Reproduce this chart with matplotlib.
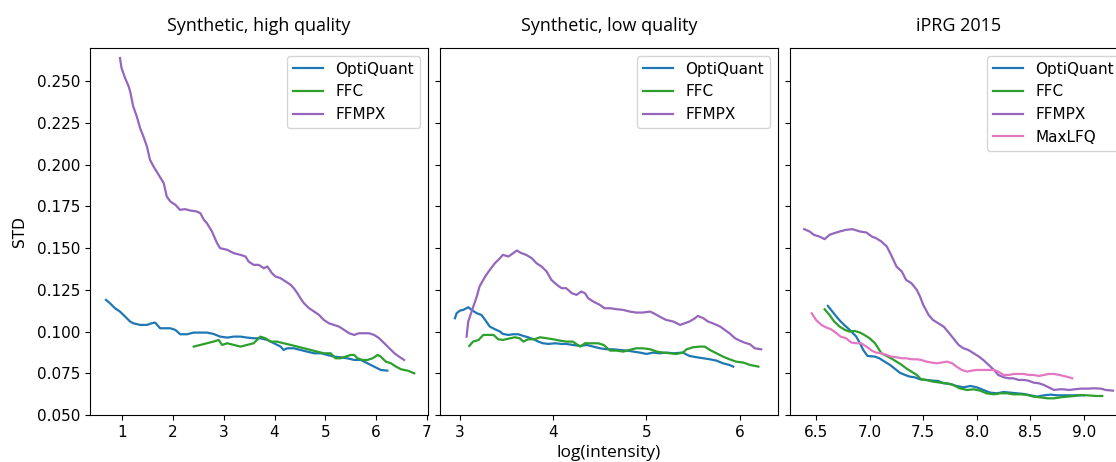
import matplotlib
matplotlib.use("Agg")
import matplotlib.pyplot as plt

plt.rcParams["font.family"] = ["DejaVu Sans"]

# Synthetic, high quality
hq_opti_x = [0.684, 0.763, 0.862, 0.96, 1.06, 1.16, 1.22, 1.355, 1.49, 1.585, 1.65, 1.75, 1.85, 1.95, 2.05,
             2.145, 2.28, 2.41, 2.54, 2.67, 2.80, 2.93, 3.07, 3.20, 3.33, 3.46, 3.59, 3.72, 3.86, 3.99, 4.12,
             4.18, 4.25, 4.38, 4.51, 4.64, 4.78, 4.91, 5.04, 5.17, 5.30, 5.43, 5.57, 5.70, 5.83, 5.96, 6.09, 6.22]
hq_opti_y = [0.119, 0.117, 0.114, 0.112, 0.109, 0.106, 0.105, 0.104, 0.104, 0.105, 0.1054, 0.102, 0.102, 0.102,
             0.101, 0.0984, 0.0984, 0.0994, 0.0994, 0.0994, 0.0986, 0.097, 0.0964, 0.097, 0.097, 0.0964, 0.096,
             0.096, 0.095, 0.093, 0.091, 0.089, 0.090, 0.090, 0.089, 0.088, 0.087, 0.087, 0.086, 0.085, 0.0846,
             0.084, 0.083, 0.083, 0.081, 0.079, 0.077, 0.0766]
hq_ffc_x = [2.41, 2.54, 2.67, 2.80, 2.90, 2.97, 3.07, 3.20, 3.33, 3.46, 3.59, 3.72, 3.82, 3.92, 4.05, 4.18, 4.32,
            4.45, 4.58, 4.71, 4.84, 4.97, 5.105, 5.20, 5.30, 5.40, 5.50, 5.57, 5.63, 5.73, 5.83, 5.93, 6.03, 6.09,
            6.19, 6.29, 6.39, 6.49, 6.62, 6.75]
hq_ffc_y = [0.091, 0.092, 0.093, 0.094, 0.095, 0.092, 0.093, 0.092, 0.091, 0.092, 0.093, 0.097, 0.096, 0.094,
            0.094, 0.093, 0.092, 0.091, 0.090, 0.089, 0.088, 0.087, 0.087, 0.084, 0.084, 0.085, 0.086, 0.086, 0.084,
            0.083, 0.083, 0.084, 0.086, 0.085, 0.082, 0.081, 0.079, 0.0774, 0.0766, 0.075]
hq_ffmpx_x = [0.96, 0.99, 1.06, 1.125, 1.16, 1.22, 1.29, 1.355, 1.42, 1.49, 1.55, 1.62, 1.72, 1.82, 1.88, 1.95,
              2.05, 2.14, 2.24, 2.34, 2.47, 2.54, 2.61, 2.67, 2.77, 2.87, 2.93, 3.07, 3.20, 3.33, 3.43, 3.49, 3.59,
              3.69, 3.79, 3.86, 3.95, 4.02, 4.12, 4.22, 4.32, 4.38, 4.45, 4.51, 4.58, 4.68, 4.78, 4.875, 4.97,
              5.07, 5.17, 5.27, 5.37, 5.47, 5.57, 5.66, 5.76, 5.86, 5.96, 6.06, 6.16, 6.26, 6.36, 6.45, 6.55]
hq_ffmpx_y = [0.264, 0.258, 0.252, 0.2474, 0.244, 0.235, 0.229, 0.222, 0.217, 0.211, 0.203, 0.199, 0.194, 0.189,
              0.181, 0.178, 0.176, 0.173, 0.1734, 0.1726, 0.172, 0.171, 0.167, 0.165, 0.160, 0.153, 0.150, 0.149,
              0.147, 0.146, 0.145, 0.142, 0.140, 0.140, 0.138, 0.139, 0.135, 0.133, 0.132, 0.130, 0.128, 0.126,
              0.123, 0.120, 0.117, 0.114, 0.112, 0.110, 0.107, 0.105, 0.104, 0.103, 0.101, 0.099, 0.098, 0.099,
              0.099, 0.099, 0.098, 0.096, 0.093, 0.090, 0.087, 0.085, 0.083]

# Synthetic, low quality
lq_opti_x = [2.946, 2.964, 3.00, 3.036, 3.089, 3.125, 3.18, 3.23, 3.27, 3.32, 3.375, 3.43, 3.46, 3.52, 3.57,
             3.625, 3.68, 3.73, 3.79, 3.84, 3.89, 3.95, 4.02, 4.09, 4.14, 4.21, 4.29, 4.36, 4.43, 4.50, 4.57,
             4.64, 4.71, 4.79, 4.86, 4.93, 5.00, 5.07, 5.14, 5.21, 5.29, 5.39, 5.46, 5.54, 5.61, 5.68, 5.75,
             5.82, 5.89, 5.93]
lq_opti_y = [0.108, 0.111, 0.1126, 0.113, 0.1146, 0.113, 0.111, 0.110, 0.107, 0.103, 0.1014, 0.100, 0.0986,
             0.098, 0.0984, 0.0984, 0.0974, 0.0966, 0.0954, 0.094, 0.093, 0.0926, 0.093, 0.0926, 0.0926, 0.092,
             0.0914, 0.092, 0.091, 0.090, 0.0894, 0.0894, 0.089, 0.0886, 0.088, 0.0874, 0.0866, 0.0874, 0.087,
             0.0874, 0.087, 0.0874, 0.0854, 0.0846, 0.084, 0.0834, 0.0826, 0.081, 0.080, 0.079]
lq_ffc_x = [3.10, 3.14, 3.20, 3.25, 3.30, 3.36, 3.41, 3.46, 3.54, 3.59, 3.64, 3.68, 3.73, 3.80, 3.86, 3.93, 4.00,
            4.07, 4.14, 4.21, 4.29, 4.34, 4.41, 4.48, 4.54, 4.61, 4.68, 4.75, 4.82, 4.89, 4.96, 5.04, 5.11, 5.18,
            5.25, 5.32, 5.39, 5.43, 5.50, 5.57, 5.625, 5.68, 5.75, 5.82, 5.89, 5.96, 6.04, 6.11, 6.20]
lq_ffc_y = [0.0914, 0.094, 0.095, 0.098, 0.098, 0.098, 0.0954, 0.095, 0.096, 0.0966, 0.096, 0.094, 0.0954,
            0.0954, 0.0966, 0.096, 0.0954, 0.0946, 0.094, 0.094, 0.091, 0.093, 0.093, 0.093, 0.092, 0.0886,
            0.0886, 0.088, 0.089, 0.090, 0.090, 0.0894, 0.088, 0.0874, 0.087, 0.0866, 0.0874, 0.0894, 0.0906,
            0.091, 0.091, 0.089, 0.087, 0.085, 0.0834, 0.082, 0.0814, 0.080, 0.079]
lq_ffmpx_x = [3.071, 3.089, 3.125, 3.18, 3.21, 3.27, 3.32, 3.375, 3.43, 3.46, 3.52, 3.57, 3.61, 3.66, 3.71,
              3.77, 3.82, 3.875, 3.93, 3.98, 4.04, 4.09, 4.14, 4.20, 4.25, 4.30, 4.34, 4.375, 4.43, 4.50, 4.55,
              4.61, 4.68, 4.75, 4.82, 4.89, 4.96, 5.04, 5.09, 5.14, 5.21, 5.29, 5.36, 5.41, 5.46, 5.52, 5.55,
              5.61, 5.66, 5.71, 5.79, 5.84, 5.89, 5.95, 6.00, 6.05, 6.11, 6.16, 6.23]
lq_ffmpx_y = [0.097, 0.106, 0.112, 0.121, 0.127, 0.133, 0.137, 0.141, 0.144, 0.146, 0.145, 0.147, 0.1486, 0.147,
              0.146, 0.144, 0.141, 0.139, 0.136, 0.131, 0.128, 0.126, 0.126, 0.123, 0.122, 0.124, 0.123, 0.120,
              0.118, 0.116, 0.114, 0.114, 0.1134, 0.113, 0.112, 0.1114, 0.1114, 0.112, 0.1106, 0.109, 0.107,
              0.106, 0.104, 0.105, 0.106, 0.108, 0.1094, 0.108, 0.106, 0.105, 0.103, 0.101, 0.099, 0.096, 0.0946,
              0.0934, 0.0924, 0.090, 0.0894]

# iPRG 2015
ip_opti_x = [6.61, 6.64, 6.69, 6.73, 6.78, 6.83, 6.875, 6.91, 6.94, 6.98, 7.05, 7.09, 7.14, 7.19, 7.23, 7.28,
             7.33, 7.375, 7.42, 7.47, 7.53, 7.59, 7.64, 7.69, 7.75, 7.81, 7.875, 7.94, 8.00, 8.06, 8.125, 8.19,
             8.25, 8.31, 8.375, 8.44, 8.50, 8.56, 8.625, 8.69, 8.75, 8.81, 8.875, 8.94, 9.00]
ip_opti_y = [0.1154, 0.113, 0.109, 0.106, 0.103, 0.100, 0.097, 0.093, 0.089, 0.0854, 0.085, 0.084, 0.082, 0.080,
             0.078, 0.0754, 0.074, 0.073, 0.0726, 0.0714, 0.071, 0.0706, 0.0704, 0.069, 0.0686, 0.0674, 0.0666,
             0.0674, 0.0666, 0.065, 0.0634, 0.063, 0.0638, 0.0634, 0.063, 0.0626, 0.0618, 0.061, 0.0618, 0.0622,
             0.0618, 0.0618, 0.0618, 0.0618, 0.0618]
ip_ffc_x = [6.58, 6.625, 6.67, 6.72, 6.77, 6.81, 6.86, 6.91, 6.95, 7.00, 7.05, 7.08, 7.11, 7.16, 7.20, 7.25, 7.30,
            7.34, 7.39, 7.44, 7.48, 7.53, 7.59, 7.66, 7.72, 7.78, 7.84, 7.91, 7.97, 8.03, 8.09, 8.16, 8.22, 8.28,
            8.34, 8.41, 8.47, 8.53, 8.59, 8.66, 8.72, 8.78, 8.84, 8.91, 8.97, 9.03, 9.11, 9.17]
ip_ffc_y = [0.1134, 0.110, 0.106, 0.103, 0.101, 0.100, 0.1004, 0.0994, 0.098, 0.096, 0.093, 0.090, 0.087, 0.0854,
            0.084, 0.082, 0.080, 0.078, 0.076, 0.074, 0.0714, 0.071, 0.070, 0.0694, 0.069, 0.068, 0.066, 0.065,
            0.0654, 0.0646, 0.063, 0.0624, 0.063, 0.063, 0.0624, 0.0624, 0.062, 0.061, 0.0606, 0.060, 0.060,
            0.0606, 0.061, 0.0614, 0.062, 0.0618, 0.0614, 0.0614]
ip_ffmpx_x = [6.39, 6.44, 6.48, 6.53, 6.58, 6.625, 6.67, 6.72, 6.78, 6.84, 6.91, 6.97, 7.02, 7.06, 7.11, 7.16,
              7.20, 7.25, 7.30, 7.34, 7.39, 7.44, 7.47, 7.50, 7.55, 7.59, 7.64, 7.69, 7.73, 7.78, 7.83, 7.875,
              7.92, 7.97, 8.02, 8.06, 8.11, 8.16, 8.20, 8.25, 8.30, 8.34, 8.39, 8.44, 8.48, 8.53, 8.58, 8.625,
              8.67, 8.72, 8.77, 8.81, 8.86, 8.91, 8.97, 9.03, 9.09, 9.16, 9.20, 9.27]
ip_ffmpx_y = [0.1614, 0.160, 0.158, 0.157, 0.1554, 0.158, 0.159, 0.160, 0.161, 0.1614, 0.160, 0.1594, 0.157,
              0.156, 0.154, 0.151, 0.146, 0.139, 0.136, 0.131, 0.129, 0.125, 0.121, 0.116, 0.110, 0.107, 0.105,
              0.103, 0.100, 0.096, 0.092, 0.090, 0.089, 0.087, 0.085, 0.083, 0.080, 0.077, 0.074, 0.0726, 0.072,
              0.072, 0.071, 0.071, 0.0706, 0.0694, 0.069, 0.068, 0.0666, 0.065, 0.0654, 0.0654, 0.065, 0.0654,
              0.0658, 0.0658, 0.066, 0.0658, 0.065, 0.0646]
ip_maxlfq_x = [6.46, 6.50, 6.55, 6.59, 6.64, 6.69, 6.73, 6.78, 6.83, 6.875, 6.92, 6.97, 7.02, 7.06, 7.11, 7.16,
               7.20, 7.25, 7.30, 7.34, 7.39, 7.44, 7.48, 7.53, 7.58, 7.625, 7.67, 7.72, 7.77, 7.81, 7.86, 7.91,
               7.95, 8.00, 8.05, 8.09, 8.16, 8.20, 8.25, 8.30, 8.34, 8.39, 8.44, 8.48, 8.53, 8.58, 8.625, 8.67,
               8.72, 8.77, 8.81, 8.86, 8.89]
ip_maxlfq_y = [0.111, 0.107, 0.104, 0.1026, 0.1014, 0.099, 0.097, 0.096, 0.0934, 0.093, 0.093, 0.091, 0.0886,
               0.0874, 0.087, 0.086, 0.085, 0.0846, 0.084, 0.084, 0.0834, 0.0834, 0.083, 0.082, 0.0814, 0.081,
               0.0814, 0.082, 0.081, 0.079, 0.077, 0.076, 0.0766, 0.077, 0.077, 0.077, 0.077, 0.076, 0.074, 0.074,
               0.0746, 0.0746, 0.0746, 0.074, 0.074, 0.0734, 0.074, 0.0746, 0.0746, 0.074, 0.0734, 0.0726, 0.072]

titles = ["Synthetic, high quality", "Synthetic, low quality", "iPRG 2015"]
colors = {"OptiQuant": "tab:blue", "FFC": "tab:green", "FFMPX": "tab:purple", "MaxLFQ": "tab:pink"}

panels = [
    {"OptiQuant": (hq_opti_x, hq_opti_y), "FFC": (hq_ffc_x, hq_ffc_y), "FFMPX": (hq_ffmpx_x, hq_ffmpx_y)},
    {"OptiQuant": (lq_opti_x, lq_opti_y), "FFC": (lq_ffc_x, lq_ffc_y), "FFMPX": (lq_ffmpx_x, lq_ffmpx_y)},
    {"OptiQuant": (ip_opti_x, ip_opti_y), "FFC": (ip_ffc_x, ip_ffc_y), "FFMPX": (ip_ffmpx_x, ip_ffmpx_y),
     "MaxLFQ": (ip_maxlfq_x, ip_maxlfq_y)},
]
xlims = [(0.37, 7.02), (2.786, 6.41), (6.257, 9.41)]
xticks = [[1, 2, 3, 4, 5, 6, 7], [3, 4, 5, 6], [6.5, 7.0, 7.5, 8.0, 8.5, 9.0]]

fig = plt.figure(figsize=(11.16, 4.62), dpi=100)
lefts = [90 / 1116, 440 / 1116, 790 / 1116]
axes = []
for i, left in enumerate(lefts):
    ax = fig.add_axes([left, 47 / 462, 338 / 1116, 367 / 462],
                      sharey=axes[0] if axes else None)
    axes.append(ax)

for i, ax in enumerate(axes):
    for name, (xs, ys) in panels[i].items():
        ax.plot(xs, ys, color=colors[name], lw=1.6, label=name)
    ax.set_xlim(*xlims[i])
    ax.set_xticks(xticks[i])
    if i == 2:
        ax.set_xticklabels(["6.5", "7.0", "7.5", "8.0", "8.5", "9.0"])
    ax.set_ylim(0.05, 0.27)
    ax.tick_params(labelsize=11)
    ax.set_title(titles[i], fontsize=13, family="Open Sans", pad=12)
    ax.legend(loc="upper right", fontsize=11)
    if i > 0:
        ax.tick_params(labelleft=False)

axes[0].set_yticks([0.05, 0.075, 0.1, 0.125, 0.15, 0.175, 0.2, 0.225, 0.25])
axes[0].set_yticklabels(["0.050", "0.075", "0.100", "0.125", "0.150", "0.175", "0.200", "0.225", "0.250"])
axes[0].set_ylabel("STD", fontsize=11, labelpad=7)
axes[1].set_xlabel("log(intensity)", fontsize=12.5, family="Open Sans", labelpad=4)

plt.savefig("out.png", dpi=100)
